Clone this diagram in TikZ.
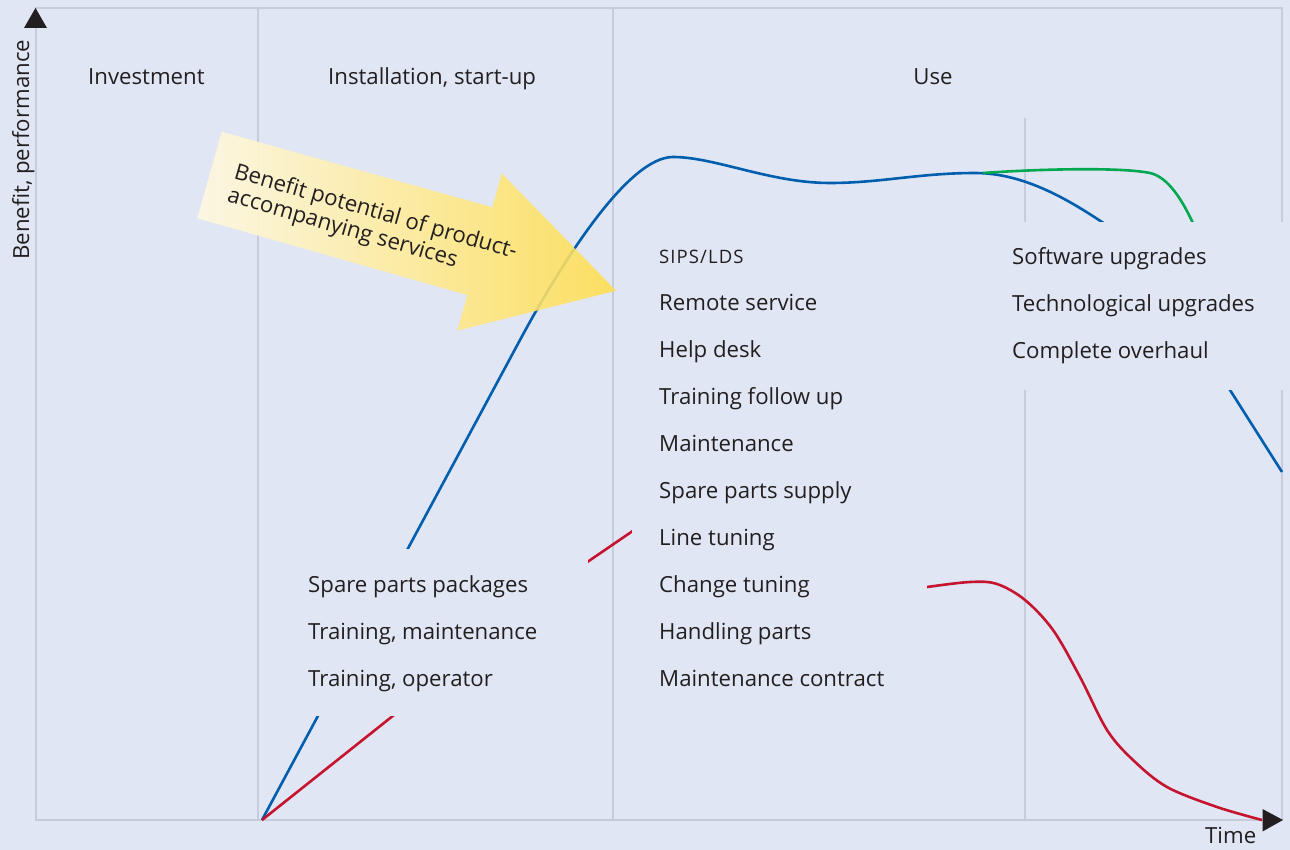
\documentclass[tikz,border=0pt]{standalone}
\usepackage{fontspec}
\setmainfont{Open Sans}
\newfontfamily\scfont[LetterSpace=6]{Open Sans}
\definecolor{bg}{RGB}{224,230,244}
\definecolor{gridc}{RGB}{198,204,219}
\definecolor{blueC}{RGB}{0,94,174}
\definecolor{redC}{RGB}{198,20,46}
\definecolor{greenC}{RGB}{0,168,80}
\definecolor{txt}{RGB}{35,31,32}
\definecolor{arrL}{RGB}{255,249,226}
\definecolor{arrR}{RGB}{255,222,78}
\begin{document}
\begin{tikzpicture}[x=1pt,y=-1pt,
  lbl/.style={font=\fontsize{22.2}{26}\selectfont, text=txt, inner sep=0pt, anchor=base west},
  gridline/.style={draw=gridc, line width=1.5pt},
  curve/.style={line width=2.6pt, line join=round},
  cover/.style={fill=bg},
  axhead/.style={fill=txt}]
\useasboundingbox (0,0) rectangle (1290,850);
\fill[bg] (0,0) rectangle (1290,850);
% frame and phase lines
\coordinate (O) at (36,820);
\coordinate (YT) at (36,8);
\coordinate (TR) at (1282,8);
\coordinate (XR) at (1282,820);
\draw[gridline] (O) -- (YT) -- (TR) -- (XR) -- cycle;
\draw[gridline] (258,8) -- (258,820);
\draw[gridline] (613,8) -- (613,820);
\draw[gridline] (1025,118) -- (1025,820);
% curves
\draw[curve, blueC] (262,820) -- (520,340)
  .. controls (562,262) and (628,157) .. (673,157)
  .. controls (715,157) and (770,183) .. (830,183)
  .. controls (880,183) and (920,173) .. (975,173)
  .. controls (1025,173) and (1070,201) .. (1102,222)
  .. controls (1150,251) and (1200,340) .. (1230,390) -- (1282,472);
\draw[curve, greenC] (983,173) .. controls (1040,169) and (1120,167) .. (1150,173)
  .. controls (1168,177) and (1183,200) .. (1196,230);
\draw[curve, redC] (262,820) -- (580,567) -- (640,526);
\draw[curve, redC] plot[smooth, tension=0.55] coordinates {(915,589) (927,587) (970,582) (997,584) (1025,600) (1053,630) (1080,677) (1107,730) (1133,760) (1167,787) (1217,807) (1262,820)};
% covers behind text blocks
\fill[cover] (295,549) rectangle (588,716);
\fill[cover] (632,222) rectangle (927,716);
\fill[cover] (1000,222) rectangle (1290,390);
% axis heads
\fill[axhead] (35.5,8) -- (24,28) -- (47,28) -- cycle;
\fill[axhead] (1283,820) -- (1262.5,809) -- (1262.5,831.5) -- cycle;
% big arrow
\shade[left color=arrL, right color=arrR, fill opacity=0.88]
  (221.7,131.7) -- (492.3,207.3) -- (501.7,173.3) -- (616,290.7)
  -- (457.3,330.7) -- (467.3,295) -- (197.3,218.3) -- cycle;
\node[lbl, rotate=-16, align=left, font=\fontsize{22.2}{24.5}\selectfont] (ar) at (226.3,201.5)
  {Benefit potential of product-\\accompanying services};
% axis labels
\node[lbl, rotate=90] (ylab) at (29,260) {Benefit, performance};
\node[lbl] (xlab) at (1205,843) {Time};
% phase headings
\node[lbl] (h1) at (88,85) {Investment};
\node[lbl] (h2) at (328,85) {Installation, start-up};
\node[lbl, anchor=base] (h3) at (933,85) {Use};
% left list
\node[lbl] (l1) at (308,592) {Spare parts packages};
\node[lbl] (l2) at (308,639) {Training, maintenance};
\node[lbl] (l3) at (308,686) {Training, operator};
% middle list
\node[lbl, font=\scfont\fontsize{18.5}{20}\selectfont] (m0) at (659,264) {SIPS/LDS};
\node[lbl] (m1) at (659,310) {Remote service};
\node[lbl] (m2) at (659,357) {Help desk};
\node[lbl] (m3) at (659,404) {Training follow up};
\node[lbl] (m4) at (659,451) {Maintenance};
\node[lbl] (m5) at (659,498) {Spare parts supply};
\node[lbl] (m6) at (659,545) {Line tuning};
\node[lbl] (m7) at (659,592) {Change tuning};
\node[lbl] (m8) at (659,639) {Handling parts};
\node[lbl] (m9) at (659,686) {Maintenance contract};
% right list
\node[lbl] (r1) at (1012,265) {Software upgrades};
\node[lbl] (r2) at (1012,311) {Technological upgrades};
\node[lbl] (r3) at (1012,358) {Complete overhaul};
\end{tikzpicture}
\end{document}
